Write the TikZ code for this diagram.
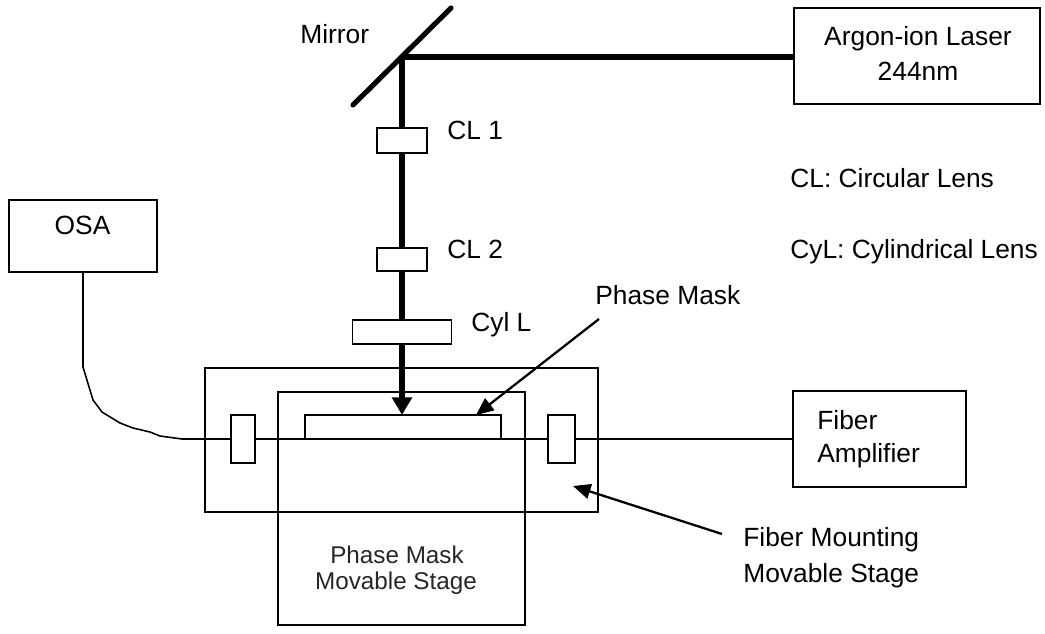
\documentclass[tikz,border=0pt]{standalone}
\usepackage{fontspec}
\setmainfont{Liberation Sans}
\usetikzlibrary{arrows.meta}
\begin{document}
\begin{tikzpicture}[x=0.02cm,y=-0.02cm]
	\tikzstyle{BOX} = [draw, line width=0.9pt, inner sep=0pt, outer sep=0pt]
	\tikzstyle{lens} = [BOX, fill=white]
	\tikzstyle{label} = [inner sep=0pt, font=\fontsize{15}{18}\selectfont, anchor=base west]
	\tikzstyle{beam} = [line width=2.9pt]
	\tikzstyle{fiber} = [line width=0.9pt]
	\tikzstyle{pointer} = [line width=1.3pt, -{Triangle[length=10pt,width=8.5pt]}]
	
	\useasboundingbox (0,0) rectangle (1045,633);
	
	\node[BOX, minimum width=4.93cm, minimum height=1.92cm] (laser) at (917,56) {};
	\node[label, anchor=base] (laserA) at (918,45) {Argon-ion Laser};
	\node[label, anchor=base] (laserB) at (918,80) {244nm};
	\node[BOX, minimum width=2.96cm, minimum height=1.44cm] (osa) at (83,236) {};
	\node[label, anchor=base] (osaname) at (82.5,234) {OSA};
	\node[BOX, minimum width=3.46cm, minimum height=1.92cm] (amp) at (879.5,439) {};
	\node[label] (ampA) at (817,429) {Fiber};
	\node[label] (ampB) at (817,462) {Amplifier};
	
	\coordinate (mirrorA) at (353,105);
	\coordinate (mirrorB) at (451,8);
	\coordinate (turn) at (402,57);
	\draw[beam, line cap=round] (mirrorA) -- (mirrorB);
	\draw[beam] (turn) -- (laser.west |- turn);
	
	\node[lens, minimum width=1.01cm, minimum height=0.5cm] (cl1) at (402,140.5) {};
	\node[lens, minimum width=1.01cm, minimum height=0.46cm] (cl2) at (402,259.5) {};
	\node[lens, minimum width=1.98cm, minimum height=0.48cm] (cyl) at (402,332) {};
	\node[label] (cl1name) at (447,139) {CL 1};
	\node[label] (cl2name) at (447,258) {CL 2};
	\node[label] (cylname) at (471,331) {Cyl L};
	
	\node[BOX, minimum width=7.86cm, minimum height=2.88cm] (outer) at (401.5,440) {};
	\node[BOX, minimum width=4.94cm, minimum height=4.66cm] (inner) at (401.5,508.5) {};
	\node[BOX, minimum width=3.92cm, minimum height=0.48cm] (mask) at (403,427) {};
	\node[lens, minimum width=0.48cm, minimum height=0.96cm] (clampL) at (243,439) {};
	\node[lens, minimum width=0.54cm, minimum height=0.96cm] (clampR) at (561.5,439) {};
	
	\draw[beam] (turn) -- (cl1.north);
	\draw[beam] (cl1.south) -- (cl2.north);
	\draw[beam] (cl2.south) -- (cyl.north);
	\draw[beam, -{Triangle[length=10pt,width=11pt]}] (cyl.south) -- (mask.north -| cyl.south);
	
	\coordinate (bendA) at (83,367);
	\coordinate (bendB) at (182,439);
	\draw[fiber] (osa.south) -- (bendA) -- (93,400) -- (102,412) -- (120,423) -- (133,428) -- (150,432) -- (160,436) -- (bendB) -- (clampL.west);
	\draw[fiber] (clampL.east) -- (mask.south west);
	\draw[fiber] (mask.south west) -- (mask.south east);
	\draw[fiber] (mask.south east) -- (clampR.west);
	\draw[fiber] (clampR.east) -- (amp.west);
	
	\node[label] (masklabel) at (595,304) {Phase Mask};
	\coordinate (maskfrom) at (599,319);
	\coordinate (maskto) at (476,415);
	\draw[pointer] (maskfrom) -- (maskto);
	\coordinate (mountfrom) at (722,534);
	\coordinate (mountto) at (573,486);
	\draw[pointer] (mountfrom) -- (mountto);
	
	\node[label] (mountA) at (743,546) {Fiber Mounting};
	\node[label] (mountB) at (743,582) {Movable Stage};
	\node[label, anchor=base, font=\fontsize{13.8}{16}\selectfont, text=black!85] (stageA) at (397,563) {Phase Mask};
	\node[label, anchor=base, font=\fontsize{13.8}{16}\selectfont, text=black!85] (stageB) at (396,589) {Movable Stage};
	\node[label] (mirrorname) at (300,43) {Mirror};
	\node[label] (clname) at (790,187) {CL: Circular Lens};
	\node[label] (cylegend) at (790,258) {CyL: Cylindrical Lens};
\end{tikzpicture}
\end{document}
